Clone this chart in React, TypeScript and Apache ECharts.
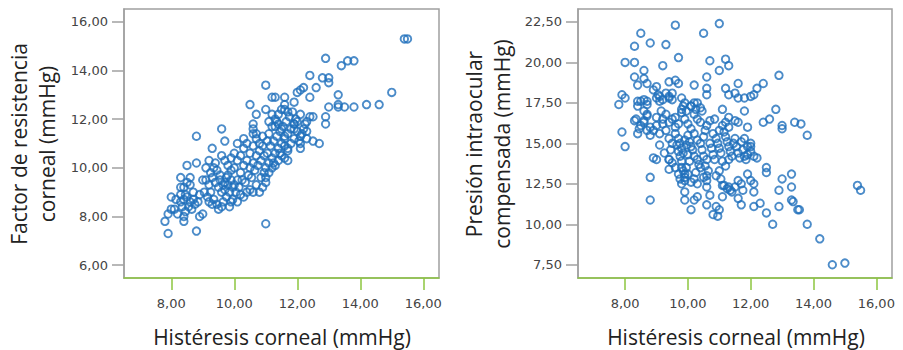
import React, { useEffect, useRef } from "react";
import * as echarts from "echarts";

// Histéresis corneal (x) vs Factor de resistencia corneal (y)
const frcPoints: [number, number][] = [
  [15.4, 15.3], [15.5, 15.3], [12.9, 14.5], [13.4, 14.2], [13.6, 14.4], [13.8, 14.4], [15.0, 13.1],
  [14.6, 12.6], [14.2, 12.6], [13.8, 12.5], [13.5, 12.5], [13.3, 12.5], [13.3, 12.6], [13.3, 13.0],
  [13.0, 12.5], [12.9, 12.1], [12.9, 11.8], [12.8, 13.7], [13.0, 13.7], [13.0, 13.5], [12.6, 13.3],
  [12.4, 13.8], [12.4, 12.9], [12.2, 13.3], [12.1, 13.2], [12.0, 13.1], [11.9, 12.7], [11.6, 12.9],
  [11.6, 12.4], [11.3, 12.9], [11.2, 12.9], [11.0, 13.4], [10.5, 12.6], [11.0, 12.4], [10.7, 12.2],
  [11.2, 12.2], [11.1, 11.9], [12.5, 12.1], [12.5, 11.1], [12.7, 11.0], [12.1, 11.0], [12.1, 10.8],
  [12.3, 11.5], [12.3, 11.9], [11.9, 11.6], [11.9, 11.8], [11.7, 10.7], [11.7, 10.3], [11.6, 11.3],
  [11.6, 10.9], [11.5, 11.6], [11.4, 11.8], [11.3, 11.7], [10.6, 11.8], [10.6, 11.6], [10.7, 11.4],
  [9.6, 11.6], [9.7, 11.1], [9.3, 10.8], [8.8, 11.3], [8.8, 10.2], [8.5, 10.1], [9.2, 10.3],
  [8.3, 9.6], [8.6, 9.6], [8.3, 9.2], [8.0, 8.8], [8.0, 8.3], [7.8, 7.8], [7.9, 7.3], [8.8, 7.4],
  [11.0, 7.7], [8.9, 8.0], [9.0, 8.1], [8.4, 8.0], [8.4, 7.8], [7.9, 8.1],
  [8.3, 8.9], [8.4, 8.7], [8.5, 8.8], [8.6, 8.6], [8.7, 8.7], [8.55, 8.4], [8.35, 8.4], [8.65, 8.3],
  [8.45, 8.2], [8.3, 8.6], [8.75, 8.5], [8.85, 8.6], [8.1, 8.3], [8.2, 8.1], [8.5, 9.4], [8.6, 9.3],
  [8.4, 9.2], [8.7, 9.0], [8.9, 8.9], [8.45, 8.9], [8.15, 8.7],
  [9.1, 9.5], [9.2, 9.3], [9.3, 9.6], [9.4, 9.4], [9.5, 9.2], [9.6, 9.0], [9.7, 9.1], [9.8, 9.3],
  [9.9, 9.5], [9.05, 9.0], [9.15, 8.8], [9.25, 9.0], [9.35, 8.7], [9.45, 8.5], [9.5, 8.3], [9.65, 8.6],
  [9.75, 8.8], [9.85, 8.4], [9.95, 8.7], [9.6, 8.4], [9.7, 9.4], [9.8, 9.7], [9.9, 9.9], [9.55, 9.7],
  [9.45, 9.9], [9.35, 10.0], [9.7, 10.3], [9.8, 10.1], [9.9, 10.4], [9.6, 10.5], [9.4, 10.2],
  [9.25, 9.8], [9.0, 9.5], [9.1, 10.0], [9.95, 9.2], [9.55, 9.5], [9.65, 9.3], [9.75, 9.6],
  [9.85, 9.0], [9.9, 8.6], [9.3, 8.5], [9.2, 8.6],
  [10.0, 9.3], [10.1, 9.5], [10.2, 9.8], [10.3, 10.1], [10.4, 10.3], [10.5, 10.0], [10.6, 10.2],
  [10.7, 10.5], [10.8, 10.7], [10.9, 10.9], [10.05, 9.0], [10.15, 9.2], [10.25, 9.5], [10.35, 9.4],
  [10.45, 9.7], [10.55, 9.6], [10.65, 9.9], [10.75, 10.1], [10.85, 10.3], [10.95, 10.5], [10.0, 10.0],
  [10.1, 10.3], [10.2, 10.5], [10.3, 10.8], [10.4, 11.0], [10.5, 10.6], [10.6, 10.9], [10.7, 11.2],
  [10.8, 11.0], [10.9, 11.3], [10.1, 8.6], [10.2, 8.9], [10.3, 8.8], [10.5, 9.1], [10.6, 9.0],
  [10.8, 9.0], [10.9, 9.2], [11.0, 9.4], [10.0, 10.6], [10.1, 11.0], [10.3, 11.2], [10.6, 11.4],
  [10.7, 9.3], [10.4, 9.0], [10.95, 9.8], [10.85, 9.6],
  [11.0, 10.0], [11.1, 10.2], [11.2, 10.4], [11.3, 10.6], [11.4, 10.8], [11.5, 11.0], [11.6, 11.2],
  [11.7, 11.4], [11.8, 11.6], [11.9, 11.8], [11.05, 10.6], [11.15, 10.9], [11.25, 11.1], [11.35, 11.3],
  [11.45, 11.5], [11.55, 11.7], [11.65, 11.9], [11.75, 12.1], [11.85, 12.3], [11.95, 12.0], [11.1, 11.4],
  [11.2, 11.7], [11.3, 12.0], [11.4, 12.2], [11.5, 12.4], [11.6, 12.6], [11.7, 12.3], [11.8, 11.0],
  [11.9, 11.2], [11.0, 9.6], [11.1, 9.8], [11.2, 10.0], [11.3, 10.1], [11.4, 10.3], [11.5, 10.5],
  [11.6, 10.4], [11.7, 10.8], [11.05, 11.1], [11.25, 10.2], [11.35, 11.9], [11.45, 10.6],
  [12.0, 11.9], [12.1, 11.3], [12.2, 11.6], [12.3, 11.2], [12.4, 12.1], [12.05, 11.1], [12.15, 11.4],
  [12.25, 11.8], [12.0, 11.5], [12.1, 12.2],
];

// Histéresis corneal (x) vs Presión intraocular compensada (y)
const iopPoints: [number, number][] = [
  [11.0, 22.4], [9.6, 22.3], [10.5, 21.8], [8.5, 21.8], [8.8, 21.2], [9.3, 21.1], [8.3, 21.0],
  [9.7, 20.3], [8.0, 20.0], [8.3, 20.0], [9.2, 19.8], [10.7, 20.1], [11.2, 20.2], [11.3, 19.8],
  [11.0, 19.5], [8.6, 19.5], [8.3, 19.1], [8.6, 19.0], [10.6, 19.1], [12.9, 19.2], [12.4, 18.7],
  [11.6, 18.7], [10.2, 18.6], [8.7, 18.7], [8.4, 18.6], [9.6, 18.9], [9.7, 18.7], [9.4, 18.8],
  [12.2, 18.4], [12.0, 17.9], [12.1, 18.0], [11.2, 18.4], [11.3, 18.0], [10.6, 18.4], [10.6, 18.0],
  [11.5, 18.1], [11.6, 17.8], [11.8, 17.8], [9.0, 18.5], [7.9, 18.0], [8.0, 17.8], [7.8, 17.4],
  [8.4, 17.6], [8.6, 17.7], [8.7, 17.4], [8.4, 17.3], [8.7, 16.8], [9.1, 17.9], [9.2, 17.7],
  [9.4, 17.9], [9.5, 17.7], [9.3, 18.1], [9.8, 17.8], [9.9, 17.5], [9.8, 17.1], [10.1, 17.3],
  [10.3, 17.5], [10.4, 17.2], [11.1, 17.1], [11.8, 17.0], [12.8, 17.1], [12.6, 16.5], [12.4, 16.3],
  [13.4, 16.3], [13.6, 16.2], [13.0, 16.1], [13.0, 15.9], [13.8, 15.5], [11.9, 16.0], [11.5, 16.4],
  [11.6, 16.3], [11.3, 16.6], [7.9, 15.7], [8.0, 14.8], [8.3, 16.4], [8.5, 16.1], [8.4, 15.6],
  [8.7, 15.8], [8.8, 15.5], [8.6, 16.4], [9.0, 16.1], [9.2, 16.5], [9.4, 16.3], [9.6, 16.6],
  [9.1, 14.9], [8.9, 14.1], [9.0, 14.0], [9.4, 14.0], [9.5, 13.8], [9.4, 13.4], [8.8, 12.9],
  [8.8, 11.5], [9.8, 13.5], [9.9, 13.1], [9.9, 12.7], [9.8, 12.5], [9.9, 12.0], [9.9, 11.5],
  [10.1, 10.9], [10.2, 11.5], [10.3, 11.7], [10.6, 12.7], [10.6, 12.3], [10.7, 11.8], [10.6, 11.2],
  [10.8, 10.6], [10.9, 11.1], [10.95, 10.5], [11.0, 10.9], [11.1, 11.7], [11.15, 12.4], [11.25, 12.2],
  [11.35, 12.1], [11.6, 11.6], [11.7, 11.2], [11.75, 12.1], [11.7, 12.5], [11.9, 13.1], [12.0, 12.7],
  [12.1, 12.5], [12.1, 12.0], [12.1, 11.1], [12.3, 11.3], [12.5, 10.7], [12.7, 10.0], [12.9, 11.1],
  [12.9, 12.1], [13.0, 12.8], [13.3, 13.1], [13.3, 12.3], [13.3, 11.5], [13.35, 11.4], [13.5, 10.9],
  [13.55, 10.9], [13.8, 10.0], [14.2, 9.1], [14.6, 7.5], [15.0, 7.6], [15.4, 12.4], [15.5, 12.1],
  [12.5, 13.5], [12.5, 13.2], [12.2, 14.1], [12.0, 14.5], [12.1, 14.2], [12.0, 14.8], [12.0, 15.0],
  [9.6, 15.6], [9.7, 15.3], [9.75, 15.0], [9.8, 14.7], [9.85, 14.4], [9.65, 14.9], [9.7, 14.5],
  [9.75, 14.2], [9.8, 13.9], [9.9, 15.2], [9.95, 14.9], [10.0, 15.5], [10.05, 15.1], [10.1, 14.8],
  [10.0, 14.3], [10.05, 13.9], [9.95, 13.5], [10.0, 13.1], [9.9, 12.9], [9.85, 13.3], [10.1, 15.9],
  [10.2, 15.6], [10.15, 14.6], [10.2, 14.2], [10.3, 14.0], [10.35, 13.7], [10.4, 13.5], [10.25, 13.2],
  [10.3, 15.2], [10.4, 15.0], [10.45, 14.6], [10.5, 15.4], [10.55, 15.8], [10.6, 16.1], [10.5, 14.2],
  [10.6, 14.0], [10.55, 13.6], [10.65, 13.3], [10.7, 15.0], [10.75, 14.7], [10.8, 14.3], [10.85, 14.0],
  [10.8, 15.6], [10.9, 15.3], [10.95, 15.0], [11.0, 14.7], [11.05, 14.4], [11.0, 15.8], [11.1, 16.1],
  [11.15, 15.7], [11.2, 15.4], [11.25, 15.1], [11.3, 14.8], [11.35, 14.5], [11.4, 14.2], [11.1, 13.9],
  [11.2, 13.6], [11.3, 14.0], [11.45, 15.0], [11.5, 15.3], [11.55, 14.8], [11.6, 14.4], [11.65, 14.1],
  [11.7, 15.1], [11.75, 14.6], [11.8, 14.2], [11.85, 14.0], [11.9, 14.8], [11.8, 15.3], [11.9, 14.3],
  [10.0, 16.2], [9.9, 16.5], [10.2, 16.8], [10.3, 16.5], [10.4, 16.3], [10.7, 16.4], [10.85, 16.5],
  [11.2, 16.3], [11.3, 16.0], [9.7, 13.1], [9.75, 12.8], [9.6, 13.5], [10.1, 12.6], [10.2, 12.8],
  [10.3, 12.5], [10.5, 12.9], [10.6, 13.0], [10.9, 13.0], [11.0, 13.3], [11.05, 12.8], [11.1, 12.4],
  [11.3, 12.3], [11.4, 12.0], [11.5, 12.3], [11.6, 12.7], [9.4, 15.3], [9.5, 15.0], [9.45, 14.6],
  [9.3, 15.8], [9.2, 16.2], [9.1, 15.6], [9.25, 14.4], [9.4, 14.0], [9.0, 16.6], [9.15, 17.0],
  [9.3, 16.8], [9.5, 16.5], [9.6, 16.0], [9.7, 16.2], [9.8, 16.9], [9.85, 17.3], [9.95, 17.0],
  [10.1, 17.3], [10.2, 17.5], [10.25, 17.1], [10.45, 17.0], [9.5, 18.1], [9.4, 17.8], [9.0, 17.8],
  [9.05, 18.0], [9.1, 17.6], [8.9, 18.3], [8.6, 17.0], [8.7, 16.7], [8.8, 16.0], [8.9, 15.8],
  [8.45, 15.9], [8.35, 16.5], [8.6, 16.3], [8.7, 17.6], [8.5, 17.6],
];

const xTicks = [8, 10, 12, 14, 16];
const frcTicks = [6, 8, 10, 12, 14, 16];
const iopTicks = [7.5, 10, 12.5, 15, 17.5, 20, 22.5];

const xTitle = "Histéresis corneal (mmHg)";
const frcTitleLines = ["Factor de resistencia", "corneal (mmHg)"];
const iopTitleLines = ["Presión intraocular", "compensada (mmHg)"];

const fmt = (v: number) => v.toFixed(2).replace(".", ",");

const GREEN = "#8cc63f";
const GRAY = "#a0a0a0";
const RING = "#1f6fbb";
const TITLE_FONT = '500 21px "Open Sans"';

function makeX(gridIndex: number) {
  return {
    gridIndex,
    type: "value",
    min: 6.5,
    max: 16.5,
    splitLine: { show: false },
    axisLine: { show: true, onZero: false, lineStyle: { color: GREEN, width: 1.5 } },
    axisTick: { show: true, length: 12, customValues: xTicks, lineStyle: { color: GREEN, width: 1.5 } },
    axisLabel: {
      customValues: xTicks,
      formatter: fmt,
      margin: 19,
      color: "#444",
      fontFamily: "DejaVu Sans",
      fontSize: 13,
    },
  };
}

function makeY(gridIndex: number, min: number, max: number, ticks: number[]) {
  return {
    gridIndex,
    type: "value",
    min,
    max,
    splitLine: { show: false },
    axisLine: { show: true, onZero: false, lineStyle: { color: GRAY, width: 1.5 } },
    axisTick: { show: true, length: 12, customValues: ticks, lineStyle: { color: GRAY, width: 1.5 } },
    axisLabel: {
      customValues: ticks,
      formatter: fmt,
      margin: 16,
      color: "#444",
      fontFamily: "DejaVu Sans",
      fontSize: 13,
    },
  };
}

function titleText(text: string, x: number, y: number, vertical: boolean) {
  return {
    type: "text",
    x,
    y,
    rotation: vertical ? Math.PI / 2 : 0,
    style: {
      text,
      font: TITLE_FONT,
      fill: "#222",
      align: "center",
      verticalAlign: "middle",
    },
  };
}

export default function App() {
  const ref = useRef<HTMLDivElement>(null);
  useEffect(() => {
    if (!ref.current) return;
    const chart = echarts.init(ref.current, undefined, { renderer: "svg" });
    const series = (data: [number, number][], idx: number) => ({
      type: "scatter",
      xAxisIndex: idx,
      yAxisIndex: idx,
      data,
      symbol: "circle",
      symbolSize: 7.5,
      itemStyle: { color: "rgba(0,0,0,0)", borderColor: RING, borderWidth: 1.9 },
    });
    chart.setOption({
      animation: false,
      backgroundColor: "#ffffff",
      grid: [
        {
          left: 124, top: 9, width: 315, height: 269, show: true,
          borderColor: GRAY, borderWidth: 1.5, outerBoundsMode: "none", containLabel: false,
        },
        {
          left: 578, top: 9, width: 314, height: 269, show: true,
          borderColor: GRAY, borderWidth: 1.5, outerBoundsMode: "none", containLabel: false,
        },
      ],
      xAxis: [makeX(0), makeX(1)],
      yAxis: [
        makeY(0, 5.47, 16.53, frcTicks),
        makeY(1, 6.68, 23.3, iopTicks),
      ],
      graphic: [
        titleText(frcTitleLines[0], 19, 144, true),
        titleText(frcTitleLines[1], 47, 144, true),
        titleText(iopTitleLines[0], 474, 144, true),
        titleText(iopTitleLines[1], 502, 144, true),
        titleText(xTitle, 282, 337, false),
        titleText(xTitle, 736, 337, false),
      ],
      series: [series(frcPoints, 0), series(iopPoints, 1)],
    });
    return () => chart.dispose();
  }, []);
  return (
    <div
      ref={ref}
      style={{ position: "absolute", left: 0, top: 0, width: 903, height: 350 }}
    />
  );
}
